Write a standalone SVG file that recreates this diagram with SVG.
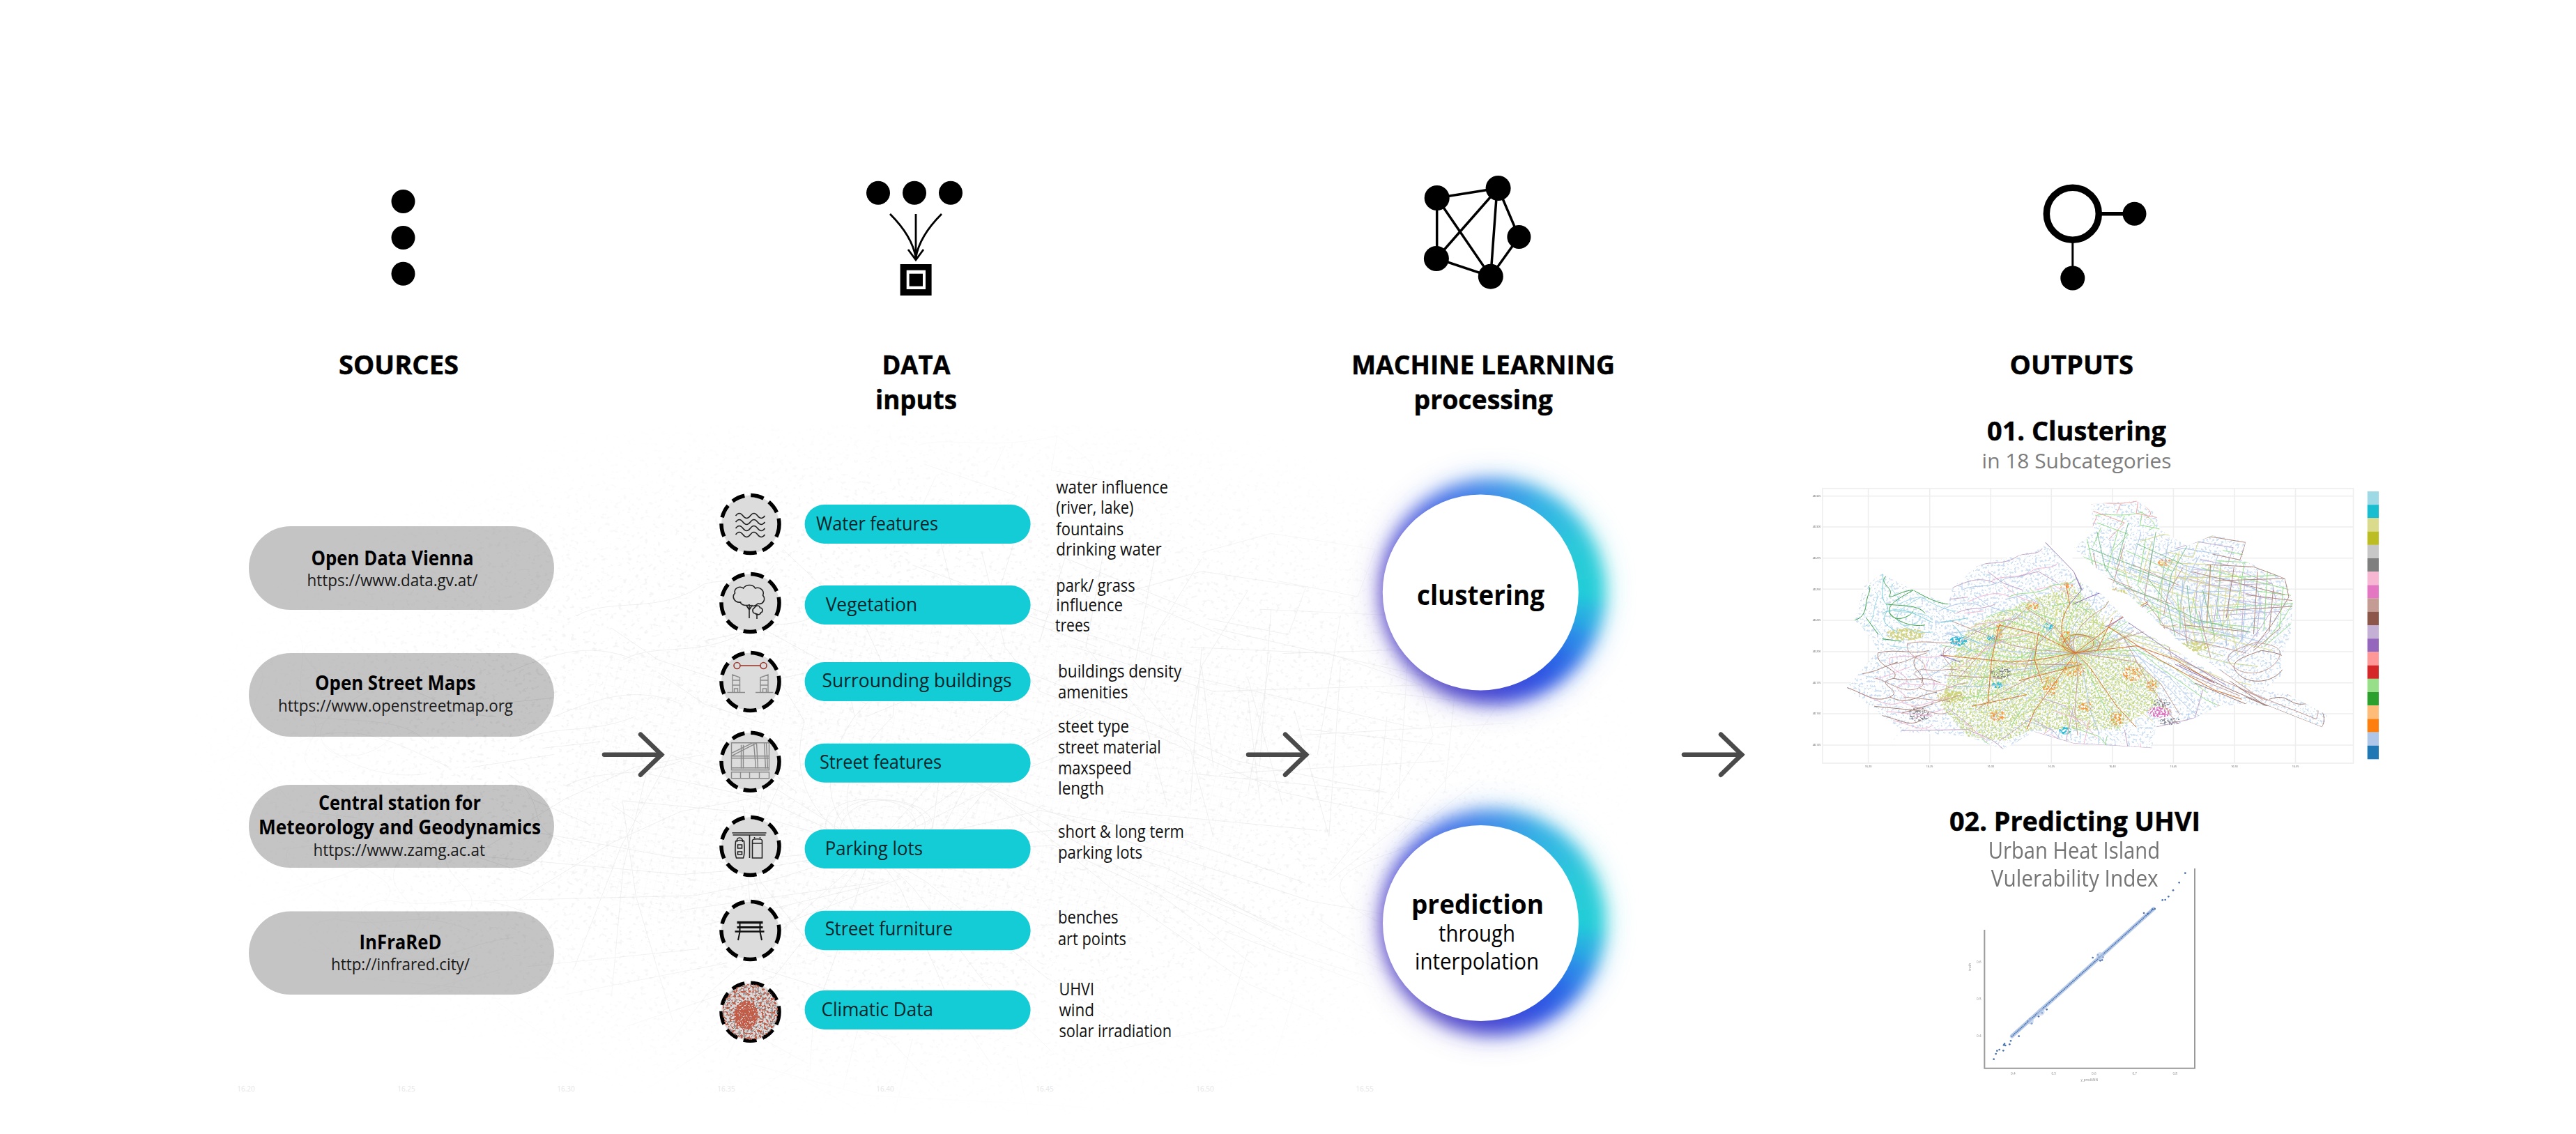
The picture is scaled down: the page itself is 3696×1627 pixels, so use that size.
<svg xmlns="http://www.w3.org/2000/svg" xmlns:xlink="http://www.w3.org/1999/xlink" width="3696" height="1627" viewBox="0 0 3696 1627">
<style>
text{font-family:"Open Sans","Liberation Sans",sans-serif;fill:#000}
.h{font-size:38px;font-weight:700;stroke:#000;stroke-width:.5px}
.h2{font-size:38px;font-weight:700;stroke:#000;stroke-width:.5px}
.sub{font-size:29px;fill:#7d7d7d}
.sub2{font-size:32px;fill:#757575}
.st{font-size:28px;font-weight:700}
.su{font-size:24px;fill:#1a1a1a}
.pt{font-size:27px;fill:#06262a}
.sd{font-size:25px;fill:#111}
.grey{fill:#000;fill-opacity:.232}
.teal{fill:#13ccd6}
.dash{fill:#dcdcdc;stroke:#000;stroke-width:5.5;stroke-dasharray:19 9}
.ic{fill:none;stroke:#222;stroke-width:1.6}
.icg{fill:none;stroke:#8a8a8a;stroke-width:1.4}
.net path{fill:none;vector-effect:non-scaling-stroke}
.edge{stroke:#000;stroke-width:3.5;fill:none}
.arrow{stroke:#4a4a4a;stroke-width:6.5;stroke-linecap:round;fill:none;marker-end:url(#chev)}
.tk{font-size:3.8px;fill:#555}
.tk2{font-size:14px;fill:#8a8a8a}
.bt{font-size:10px;fill:#e6e6e6}
.grid{stroke:#eeeeee;stroke-width:1.6}
</style>
<defs>
<marker id="chev" markerUnits="userSpaceOnUse" markerWidth="50" markerHeight="76" refX="37" refY="36" orient="auto">
<path d="M7 7 L37 36 L7 65" fill="none" stroke="#4a4a4a" stroke-width="6.5" stroke-linecap="round"/>
</marker>
<filter id="b10" x="-30%" y="-30%" width="160%" height="160%"><feGaussianBlur stdDeviation="12"/></filter>
<filter id="b22" x="-40%" y="-40%" width="180%" height="180%"><feGaussianBlur stdDeviation="24"/></filter>
<filter id="soft" x="-2%" y="-2%" width="104%" height="104%"><feGaussianBlur stdDeviation=".45"/></filter>
<filter id="nBg" x="0" y="0" width="1" height="1" color-interpolation-filters="sRGB"><feTurbulence type="fractalNoise" baseFrequency=".16 .2" numOctaves="3" seed="7"/><feColorMatrix values="0 0 0 0 .55 0 0 0 0 .55 0 0 0 0 .55 7 0 0 0 -4.2"/></filter>
<filter id="nBlue" x="0" y="0" width="1" height="1" color-interpolation-filters="sRGB"><feTurbulence type="fractalNoise" baseFrequency=".3" numOctaves="2" seed="11"/><feColorMatrix values="0 0 0 0 .62 0 0 0 0 .76 0 0 0 0 .9 8 0 0 0 -4.3"/></filter>
<filter id="nGreen" x="0" y="0" width="1" height="1" color-interpolation-filters="sRGB"><feTurbulence type="fractalNoise" baseFrequency=".38" numOctaves="2" seed="4"/><feColorMatrix values="0 0 0 0 .76 0 0 0 0 .84 0 0 0 0 .45 8 0 0 0 -4"/></filter>
<filter id="nOr" x="0" y="0" width="1" height="1" color-interpolation-filters="sRGB"><feTurbulence type="fractalNoise" baseFrequency=".32" numOctaves="2" seed="21"/><feColorMatrix values="0 0 0 0 1 0 0 0 0 .5 0 0 0 0 .1 9 0 0 0 -4.4"/></filter>
<filter id="nGr" x="0" y="0" width="1" height="1" color-interpolation-filters="sRGB"><feTurbulence type="fractalNoise" baseFrequency=".4" numOctaves="2" seed="15"/><feColorMatrix values="0 0 0 0 .42 0 0 0 0 .42 0 0 0 0 .46 9 0 0 0 -4.4"/></filter>
<filter id="nPk" x="0" y="0" width="1" height="1" color-interpolation-filters="sRGB"><feTurbulence type="fractalNoise" baseFrequency=".38" numOctaves="2" seed="31"/><feColorMatrix values="0 0 0 0 .89 0 0 0 0 .47 0 0 0 0 .76 9 0 0 0 -4"/></filter>
<filter id="nOl" x="0" y="0" width="1" height="1" color-interpolation-filters="sRGB"><feTurbulence type="fractalNoise" baseFrequency=".32" numOctaves="2" seed="8"/><feColorMatrix values="0 0 0 0 .8 0 0 0 0 .8 0 0 0 0 .4 10 0 0 0 -4.4"/></filter>
<filter id="nTe" x="0" y="0" width="1" height="1" color-interpolation-filters="sRGB"><feTurbulence type="fractalNoise" baseFrequency=".32" numOctaves="2" seed="18"/><feColorMatrix values="0 0 0 0 .2 0 0 0 0 .75 0 0 0 0 .85 10 0 0 0 -4.4"/></filter>
<filter id="nRed" x="0" y="0" width="1" height="1" color-interpolation-filters="sRGB"><feTurbulence type="fractalNoise" baseFrequency=".3" numOctaves="2" seed="5"/><feColorMatrix values="0 0 0 0 .76 0 0 0 0 .36 0 0 0 0 .28 10 0 0 0 -5.2"/></filter>
<filter id="nRed2" x="0" y="0" width="1" height="1" color-interpolation-filters="sRGB"><feTurbulence type="fractalNoise" baseFrequency=".5" numOctaves="2" seed="9"/><feColorMatrix values="0 0 0 0 .76 0 0 0 0 .36 0 0 0 0 .28 10 0 0 0 -3.6"/></filter>
<filter id="nLine" x="0" y="0" width="1" height="1" color-interpolation-filters="sRGB"><feTurbulence type="fractalNoise" baseFrequency=".3" numOctaves="2" seed="13"/><feColorMatrix values="0 0 0 0 .6 0 0 0 0 .6 0 0 0 0 .6 9 0 0 0 -4.6"/></filter>
<pattern id="gridG" patternUnits="userSpaceOnUse" width="16" height="30" patternTransform="rotate(25)"><path d="M0 0H16M0 0V30" fill="none" stroke="#c9dc94" stroke-width="1.4"/></pattern>
<pattern id="gridB" patternUnits="userSpaceOnUse" width="14" height="26" patternTransform="rotate(-20)"><path d="M0 0H14M0 0V26" fill="none" stroke="#c4d4ec" stroke-width="1.1"/></pattern>
<pattern id="gridBg" patternUnits="userSpaceOnUse" width="13" height="13" patternTransform="rotate(12)"><path d="M0 0H13M0 0V13" fill="none" stroke="#e6e6e6" stroke-width="1"/></pattern>
<clipPath id="cityClip"><polygon transform="translate(2560 680) scale(.5612 .3333)" points="180,630 205,480 250,430 330,500 420,560 430,490 490,400 530,375 600,350 660,320 668,295 720,380 760,470 800,500 850,480 740,320 790,250 785,130 900,115 950,170 960,240 1030,310 1095,265 1180,290 1170,370 1280,450 1300,550 1295,690 1270,790 1275,870 1220,930 1290,950 1390,1040 1375,1090 1240,1000 1180,990 1110,1000 1050,1050 1000,1080 950,1090 940,1180 850,1170 740,1160 640,1110 560,1185 470,1130 300,1110 270,1165 300,1100 250,1040 160,920 240,760 220,700"/></clipPath>
<clipPath id="centerClip"><polygon transform="translate(2560 680) scale(.5612 .3333)" points="470,660 600,560 740,480 800,600 830,680 900,800 960,900 950,1000 850,1100 640,1100 560,1150 470,1130 400,1000 430,800"/></clipPath>
<clipPath id="orangeClip" transform="translate(2560 680) scale(.5612 .3333)"><ellipse cx="720" cy="720" rx="18" ry="44"/><ellipse cx="740" cy="840" rx="28" ry="34"/><ellipse cx="910" cy="620" rx="16" ry="28"/><ellipse cx="635" cy="570" rx="18" ry="14"/><ellipse cx="720" cy="480" rx="18" ry="14"/><ellipse cx="545" cy="1040" rx="20" ry="24"/><ellipse cx="850" cy="1055" rx="18" ry="32"/><ellipse cx="890" cy="860" rx="24" ry="32"/><ellipse cx="940" cy="910" rx="14" ry="24"/><ellipse cx="680" cy="910" rx="20" ry="44"/><ellipse cx="550" cy="680" rx="9" ry="50"/><ellipse cx="975" cy="380" rx="20" ry="18"/><ellipse cx="770" cy="1000" rx="18" ry="24"/></clipPath>
<clipPath id="darkClip" transform="translate(2560 680) scale(.5612 .3333)"><ellipse cx="555" cy="855" rx="28" ry="28"/><ellipse cx="345" cy="1035" rx="30" ry="30"/><ellipse cx="965" cy="985" rx="22" ry="18"/><ellipse cx="985" cy="1065" rx="30" ry="16"/></clipPath>
<clipPath id="pinkClip" transform="translate(2560 680) scale(.5612 .3333)"><ellipse cx="960" cy="1025" rx="30" ry="24"/></clipPath>
<clipPath id="oliveClip" transform="translate(2560 680) scale(.5612 .3333)"><ellipse cx="425" cy="960" rx="36" ry="26"/><ellipse cx="850" cy="520" rx="28" ry="28"/><ellipse cx="1050" cy="740" rx="34" ry="24"/><ellipse cx="310" cy="690" rx="50" ry="26"/></clipPath>
<clipPath id="tealClip" transform="translate(2560 680) scale(.5612 .3333)"><ellipse cx="545" cy="908" rx="14" ry="14"/><ellipse cx="718" cy="1105" rx="16" ry="16"/><ellipse cx="445" cy="720" rx="22" ry="22"/><ellipse cx="530" cy="705" rx="12" ry="14"/><ellipse cx="675" cy="655" rx="12" ry="16"/></clipPath>
<clipPath id="cl"><circle cx="0" cy="0" r="40"/></clipPath>
<clipPath id="cl2"><ellipse cx="-6" cy="5" rx="17" ry="20"/></clipPath>
<radialGradient id="fade" gradientUnits="userSpaceOnUse" cx="0" cy="0" r="1" gradientTransform="translate(1320 1085) scale(1060 530)"><stop offset=".6" stop-color="#fff"/><stop offset="1" stop-color="#000"/></radialGradient>
<mask id="fadeM" maskUnits="userSpaceOnUse" x="200" y="560" width="2300" height="1050"><rect x="200" y="560" width="2300" height="1050" fill="url(#fade)"/></mask>
<g id="rA" class="net"><path d="M180,630C215,610 205,560 215,520S210,490 220,480M260,440C240,470 280,490 270,520S300,500 330,500M330,500C300,530 260,560 270,600S320,620 330,590M210,620L240,690M270,600C290,640 330,660 360,650M330,500C370,540 400,560 420,560M300,720L250,710M260,560C300,570 340,560 360,600"/></g>
<g id="rB" class="net"><path d="M250,430C260,470 240,520 260,560S220,620 290,680M250,600C300,560 340,610 380,640M430,650C470,700 440,730 480,760M450,690L500,730M520,700L545,730M660,650L680,680M400,640L470,620"/></g>
<g id="rC" class="net"><path d="M160,920C200,940 230,990 270,960S220,900 280,880C300,840 230,830 240,770M240,770C290,750 330,780 370,760M280,880C330,900 350,860 400,900M270,960C320,1000 340,950 390,940M230,1000L350,1020M300,1030L380,990M250,1040C300,1060 320,1090 350,1060M200,860C240,850 250,830 290,810M340,780C310,840 370,860 350,900"/></g>
<g id="rD" class="net"><path d="M1010,820L1130,920L1240,1000L1375,1090M1180,960L1250,1010M1240,970C1290,940 1290,1000 1330,990S1390,1040 1375,1090M1220,760C1170,790 1130,810 1160,860S1250,900 1275,840S1260,770 1220,760M1130,880L1240,1010M1050,900L1180,990"/></g>
<g id="rE" class="net"><path d="M1080,390L1200,400L1280,450L1290,530L1250,640L1200,750M1100,460L1280,450M1110,590L1300,570M1020,650L1190,680M1090,390L1080,640M1150,400L1130,620M1210,420L1200,690M1030,300L1090,270L1180,295L1165,370L1095,345M1040,420L1280,520M1180,520L1300,545M1250,500L1240,680M1270,660L1200,760"/></g>
<g id="rF" class="net"><path d="M785,130C810,115 850,140 905,115C930,150 950,170 925,190M790,160L830,185M800,180L780,260M830,185L870,210L830,280M905,115L900,170L960,190M860,130L850,170"/></g>
<g id="rG" class="net"><path d="M745,770L650,690L550,650M745,770C700,720 700,640 730,560L720,470M745,770L800,700L860,620L930,550M745,770L650,800L580,810M745,770L700,880L640,1020L620,1100M745,770L780,830L850,1000L900,1090M745,770L900,740L1000,800L1100,900M400,780L580,810M830,660L960,800L1100,930L1170,970M715,720C700,770 760,790 790,740C800,690 730,670 715,720M550,650L530,800L520,1000M600,890L760,820M620,950L480,1000M840,620L800,760M650,680L640,800L660,900"/></g>
<g id="rH" class="net"><path d="M800,250L820,400L850,470M880,210L850,390M950,250L930,450L980,560L1000,700M1030,310L990,430L980,520M850,470L950,540L1060,630L1190,680M780,320L900,400M900,300L1020,390M880,400L1000,470M1030,480L1040,640M1070,500L1100,700"/></g>
<g id="rI" class="net"><path d="M668,295L740,420L760,500L730,560M810,510L780,530L740,560M820,660L930,560M400,780L450,810M1000,820L1100,900"/></g>
<g id="rJ" class="net"><path d="M490,400C520,370 560,400 600,350C620,340 650,350 660,320M430,490C470,460 500,440 540,470M440,600C470,570 500,590 540,560M480,690L540,640L600,620M400,780L480,690M520,420L560,470L610,500M600,440L650,420L700,470M420,540L470,530M300,1105L470,1100C500,1130 520,1120 560,1185M640,1110L700,1140L740,1160L850,1170L940,1180M740,1000L720,1150M870,1100L880,1190M950,1090L1050,1050L1070,930M650,960L720,1000L760,1080M640,1060L690,1110M550,1150L640,1040M420,1010L480,1090"/></g>
<g id="halo">
<g transform="translate(17 -1)" opacity=".32" filter="url(#b22)"><use href="#wedges"/></g>
<g transform="translate(17 -1)" filter="url(#b10)"><use href="#wedges"/></g>
</g>
<g id="wedges">
<path fill="#22cdd8" d="M0 0L160.600 -21.100L160.600 21.100Z"/>
<path fill="#28aee2" d="M0 0L160.600 21.100L149.700 62Z"/>
<path fill="#2a86e8" d="M0 0L149.700 62L128.500 98.600Z"/>
<path fill="#2c68e6" d="M0 0L128.500 98.600L98.600 128.500Z"/>
<path fill="#2f55e2" d="M0 0L98.600 128.500L62 149.700Z"/>
<path fill="#3b4edb" d="M0 0L62 149.700L21.100 160.600Z"/>
<path fill="#4748d2" d="M0 0L21.100 160.600L-21.100 160.600Z"/>
<path fill="#514ccd" d="M0 0L-21.100 160.600L-62 149.700Z"/>
<path fill="#5a50c8" d="M0 0L-62 149.700L-98.600 128.500Z"/>
<path fill="#5e52ca" d="M0 0L-98.600 128.500L-128.500 98.600Z"/>
<path fill="#6254cc" d="M0 0L-128.500 98.600L-149.700 62Z"/>
<path fill="#6454cc" d="M0 0L-149.700 62L-160.600 21.100Z"/>
<path fill="#6654cc" d="M0 0L-160.600 21.100L-160.600 -21.100Z"/>
<path fill="#6258d2" d="M0 0L-160.600 -21.100L-149.700 -62Z"/>
<path fill="#5a5cd8" d="M0 0L-149.700 -62L-128.500 -98.600Z"/>
<path fill="#5266df" d="M0 0L-128.500 -98.600L-98.600 -128.500Z"/>
<path fill="#4a72e6" d="M0 0L-98.600 -128.500L-62 -149.700Z"/>
<path fill="#4580e8" d="M0 0L-62 -149.700L-21.100 -160.600Z"/>
<path fill="#3f8fe8" d="M0 0L-21.100 -160.600L21.100 -160.600Z"/>
<path fill="#39a0e6" d="M0 0L21.100 -160.600L62 -149.700Z"/>
<path fill="#33b2e4" d="M0 0L62 -149.700L98.600 -128.500Z"/>
<path fill="#2fbde0" d="M0 0L98.600 -128.500L128.500 -98.600Z"/>
<path fill="#2cc8da" d="M0 0L128.500 -98.600L149.700 -62Z"/>
<path fill="#26ccd8" d="M0 0L149.700 -62L160.600 -21.100Z"/>
</g>
</defs>
<rect width="3696" height="1627" fill="#fff"/>

<g id="background-map" mask="url(#fadeM)">
<rect x="280" y="610" width="2060" height="990" filter="url(#nBg)" opacity=".09"/>
<polygon points="850,950 1500,820 1850,1000 1750,1300 1100,1400 800,1250" fill="url(#gridBg)" opacity=".3"/>
<g transform="translate(14.4 520.8) scale(1.66 .906)" stroke="#d0d0d0" stroke-width="1" opacity=".32">
<use href="#rA"/><use href="#rB"/><use href="#rC"/><use href="#rD"/><use href="#rE"/><use href="#rF"/><use href="#rG"/><use href="#rH"/><use href="#rI"/><use href="#rJ"/>
<use href="#rG" transform="rotate(9 745 770)"/><use href="#rG" transform="rotate(-12 745 770)"/><use href="#rJ" transform="translate(40 70)"/><use href="#rC" transform="translate(45 -30)"/><use href="#rE" transform="translate(-60 60)"/><use href="#rH" transform="translate(40 50)"/>
</g>
</g>
<g id="background-labels">
<text class="bt" x="353" y="1566" text-anchor="middle">16.20</text><text class="bt" x="583" y="1566" text-anchor="middle">16.25</text><text class="bt" x="812" y="1566" text-anchor="middle">16.30</text><text class="bt" x="1042" y="1566" text-anchor="middle">16.35</text><text class="bt" x="1270" y="1566" text-anchor="middle">16.40</text><text class="bt" x="1499" y="1566" text-anchor="middle">16.45</text><text class="bt" x="1729" y="1566" text-anchor="middle">16.50</text><text class="bt" x="1958" y="1566" text-anchor="middle">16.55</text>
</g>

<g id="col-sources">
<circle cx="578.5" cy="289" r="17"/><circle cx="578.5" cy="341" r="17"/><circle cx="578.5" cy="392.7" r="17"/>
<text class="h" x="486" y="537" textLength="172" lengthAdjust="spacingAndGlyphs">SOURCES</text>
</g>
<g id="col-data">
<circle cx="1260" cy="276.7" r="17"/><circle cx="1312" cy="276.7" r="17"/><circle cx="1364" cy="276.7" r="17"/>
<path d="M1277 307C1295 325 1310 345 1314 370M1314 307V372M1351 307C1333 325 1318 345 1314 370M1303 358L1314 373L1325 358" fill="none" stroke="#000" stroke-width="2.8"/>
<rect x="1291.6" y="379" width="45" height="45"/><rect x="1300.7" y="387.7" width="27.3" height="27.3" fill="#fff"/><rect x="1304.6" y="392.7" width="19.4" height="18"/>
<text class="h" x="1265.5" y="537" textLength="98" lengthAdjust="spacingAndGlyphs">DATA</text>
<text class="h" x="1256" y="586.7" textLength="117" lengthAdjust="spacingAndGlyphs">inputs</text>
</g>
<g id="col-ml">
<path class="edge" d="M2061.7 284L2149.6 270" stroke-width="6"/><path class="edge" d="M2061.7 284V371L2138.8 396.7L2179.4 340L2149.6 270L2060.9 371M2061.7 284L2138.8 396.7L2148 270"/>
<circle cx="2061.7" cy="284" r="18"/><circle cx="2149.6" cy="270" r="18"/><circle cx="2179.4" cy="340" r="17"/><circle cx="2060.9" cy="371" r="18"/><circle cx="2138.8" cy="396.7" r="18"/>
<text class="h" x="1939" y="537" textLength="378" lengthAdjust="spacingAndGlyphs">MACHINE LEARNING</text>
<text class="h" x="2028.5" y="587" textLength="199.5" lengthAdjust="spacingAndGlyphs">processing</text>
</g>
<g id="col-outputs">
<path d="M3010 306.7H3062" stroke="#000" stroke-width="5.5"/><path d="M2973.8 345V399" stroke="#000" stroke-width="3"/>
<circle cx="2973.8" cy="306.7" r="37.5" fill="#fff" stroke="#000" stroke-width="9.5"/><circle cx="3062.5" cy="306.7" r="17"/><circle cx="2973.8" cy="399" r="17.5"/>
<text class="h" x="2883.5" y="537" textLength="177.5" lengthAdjust="spacingAndGlyphs">OUTPUTS</text>
</g>

<g id="src-1"><rect class="grey" x="357" y="755" width="438" height="120" rx="60"/>
<text class="st" x="446.5" y="811" textLength="233" lengthAdjust="spacingAndGlyphs">Open Data Vienna</text>
<text class="su" x="440.5" y="841" textLength="245" lengthAdjust="spacingAndGlyphs">https://www.data.gv.at/</text></g>
<g id="src-2"><rect class="grey" x="357" y="937" width="438" height="120" rx="60"/>
<text class="st" x="452" y="990" textLength="230.6" lengthAdjust="spacingAndGlyphs">Open Street Maps</text>
<text class="su" x="399" y="1020.5" textLength="337" lengthAdjust="spacingAndGlyphs">https://www.openstreetmap.org</text></g>
<g id="src-3"><rect class="grey" x="357" y="1126" width="438" height="119" rx="59.5"/>
<text class="st" x="457" y="1162" textLength="233" lengthAdjust="spacingAndGlyphs">Central station for</text>
<text class="st" x="371" y="1197" textLength="405" lengthAdjust="spacingAndGlyphs">Meteorology and Geodynamics</text>
<text class="su" x="449.5" y="1227.5" textLength="246.5" lengthAdjust="spacingAndGlyphs">https://www.zamg.ac.at</text></g>
<g id="src-4"><rect class="grey" x="357" y="1307.5" width="438" height="119.5" rx="59.7"/>
<text class="st" x="515.6" y="1362" textLength="118" lengthAdjust="spacingAndGlyphs">InFraReD</text>
<text class="su" x="475" y="1392" textLength="199" lengthAdjust="spacingAndGlyphs">http://infrared.city/</text></g>

<g id="input-water">
<g transform="translate(1076.5 752)"><circle class="dash" r="41.5"/>
<path class="ic" stroke="#111" d="M-21 -12q5.2 -7 10.5 0t10.5 0t10.5 0t10.5 0M-21 -3q5.2 -7 10.5 0t10.5 0t10.5 0t10.5 0M-21 6q5.2 -7 10.5 0t10.5 0t10.5 0t10.5 0M-21 15q5.2 -7 10.5 0t10.5 0t10.5 0t10.5 0"/></g>
<rect class="teal" x="1154.6" y="724" width="324" height="56" rx="28"/>
<text class="pt" x="1171" y="761" textLength="175" lengthAdjust="spacingAndGlyphs">Water features</text>
<text class="sd" x="1515.3" y="707.7" textLength="160.7" lengthAdjust="spacingAndGlyphs">water influence</text>
<text class="sd" x="1515.3" y="737.3" textLength="111" lengthAdjust="spacingAndGlyphs">(river, lake)</text>
<text class="sd" x="1515.3" y="767.7" textLength="97" lengthAdjust="spacingAndGlyphs">fountains</text>
<text class="sd" x="1515.3" y="797.3" textLength="151.5" lengthAdjust="spacingAndGlyphs">drinking water</text>
</g>
<g id="input-vegetation">
<g transform="translate(1076.5 865)"><circle class="dash" r="41.5"/>
<path class="ic" d="M-2 3C-10 5 -14 1 -14 -1C-23 0 -27 -9 -22 -14C-24 -21 -15 -25 -10 -21C-6 -27 4 -27 7 -21C14 -24 21 -17 18 -11C23 -5 18 3 11 1C7 5 2 5 -2 3ZM-1.5 2V22M-1.5 10L-6 3M-1.5 10L3 3M6 7C2 9 3 15 7 15C9 18 15 17 15 14C19 13 18 7 14 7C13 3 8 3 6 7ZM9.5 15V23"/></g>
<rect class="teal" x="1154.6" y="840" width="324" height="56" rx="28"/>
<text class="pt" x="1184.7" y="876.7" textLength="131.5" lengthAdjust="spacingAndGlyphs">Vegetation</text>
<text class="sd" x="1515.3" y="849" textLength="113.3" lengthAdjust="spacingAndGlyphs">park/ grass</text>
<text class="sd" x="1515.3" y="877" textLength="95.7" lengthAdjust="spacingAndGlyphs">influence</text>
<text class="sd" x="1514" y="906" textLength="49.8" lengthAdjust="spacingAndGlyphs">trees</text>
</g>
<g id="input-buildings">
<g transform="translate(1076.5 978)"><circle class="dash" r="41.5"/>
<path fill="none" stroke="#9c3b30" stroke-width="1.6" d="M-14.500 -23H14.500"/><circle cx="-19" cy="-23" r="4.5" fill="none" stroke="#9c3b30" stroke-width="1.6"/><circle cx="19" cy="-23" r="4.5" fill="none" stroke="#9c3b30" stroke-width="1.6"/>
<path class="icg" d="M-33 15.500H-7.500M-25.500 15.500V-10L-15 -6V15.500M-25.500 -2H-15M-25.500 5H-15M-23 15.500V10H-18V15.500M7.500 15.500H33M14.500 15.500V-6L25.500 -10V15.500M14.500 -2H25.500M14.500 5H25.500M18 15.500V10H23V15.500"/></g>
<rect class="teal" x="1154.6" y="950" width="324" height="56" rx="28"/>
<text class="pt" x="1179.6" y="986" textLength="272" lengthAdjust="spacingAndGlyphs">Surrounding buildings</text>
<text class="sd" x="1518" y="971.7" textLength="177.4" lengthAdjust="spacingAndGlyphs">buildings density</text>
<text class="sd" x="1518" y="1001.7" textLength="100.4" lengthAdjust="spacingAndGlyphs">amenities</text>
</g>
<g id="input-streets">
<g transform="translate(1076.5 1092.700)"><circle class="dash" r="41.5"/>
<path class="icg" d="M-27 -27H27V12H-27ZM-27 -12L4 -27M-27 -8L10 -27M-27 -8H27M-27 -5H27M-13 -24V10M-10 -24V10M5 -27L8 10M9 -27L11 10M20 -27L22 10M23 -27L25 10M-27 9H27M-27 15H27V24H-27ZM-14 15V24M-1 15V24M13 15V24"/></g>
<rect class="teal" x="1154.6" y="1066.700" width="324" height="56" rx="28"/>
<text class="pt" x="1176" y="1103" textLength="175" lengthAdjust="spacingAndGlyphs">Street features</text>
<text class="sd" x="1518" y="1050.7" textLength="102" lengthAdjust="spacingAndGlyphs">steet type</text>
<text class="sd" x="1518" y="1080.7" textLength="147.800" lengthAdjust="spacingAndGlyphs">street material</text>
<text class="sd" x="1518" y="1110.7" textLength="105.500" lengthAdjust="spacingAndGlyphs">maxspeed</text>
<text class="sd" x="1518" y="1140" textLength="66" lengthAdjust="spacingAndGlyphs">length</text>
</g>
<g id="input-parking">
<g transform="translate(1076.5 1214)"><circle class="dash" r="41.5"/>
<path class="ic" d="M-26 -19H23M-25 -16H22M-1 -16V17M-19 -6C-21 -14 -10 -14 -11 -6M-21 -7C-22 4 -22 12 -20 17H-10C-8 12 -8 4 -9 -7C-10 -9 -20 -9 -21 -7ZM-18 -2H-12V3H-18ZM-18 8H-12V12H-18ZM3 -8C3 -11 17 -11 17 -8V17H3ZM3 -4H17M6 -13V-11M14 -13V-11"/></g>
<rect class="teal" x="1154.6" y="1190" width="324" height="56" rx="28"/>
<text class="pt" x="1183.7" y="1227" textLength="140.300" lengthAdjust="spacingAndGlyphs">Parking lots</text>
<text class="sd" x="1518" y="1201.7" textLength="181" lengthAdjust="spacingAndGlyphs">short &amp; long term</text>
<text class="sd" x="1518" y="1231.7" textLength="121" lengthAdjust="spacingAndGlyphs">parking lots</text>
</g>
<g id="input-furniture">
<g transform="translate(1076.5 1335)"><circle class="dash" r="41.5"/>
<path fill="none" stroke="#111" d="M-19 -11.500H18" stroke-width="3.500"/><path fill="none" stroke="#111" d="M-19 -4.500H18" stroke-width="3"/><path fill="none" stroke="#111" d="M-22 1.500H20" stroke-width="2.600"/><path fill="none" stroke="#111" stroke-width="2" d="M-15 -13V2L-17.500 14M14 -13V2L16.500 14"/></g>
<rect class="teal" x="1154.6" y="1306.700" width="324" height="56.500" rx="28"/>
<text class="pt" x="1183.7" y="1342" textLength="183.300" lengthAdjust="spacingAndGlyphs">Street furniture</text>
<text class="sd" x="1518" y="1325" textLength="86.600" lengthAdjust="spacingAndGlyphs">benches</text>
<text class="sd" x="1518" y="1355.7" textLength="98" lengthAdjust="spacingAndGlyphs">art points</text>
</g>
<g id="input-climate">
<g transform="translate(1076.5 1451.700)"><circle class="dash" r="41.5"/>
<g clip-path="url(#cl)"><rect x="-42" y="-42" width="84" height="84" filter="url(#nLine)"/><rect x="-42" y="-42" width="84" height="84" filter="url(#nRed)"/></g>
<g clip-path="url(#cl2)"><rect x="-30" y="-20" width="50" height="50" filter="url(#nRed2)"/></g></g>
<rect class="teal" x="1154.6" y="1421" width="324" height="56" rx="28"/>
<text class="pt" x="1178.6" y="1458" textLength="160.400" lengthAdjust="spacingAndGlyphs">Climatic Data</text>
<text class="sd" x="1519.4" y="1428" textLength="50.600" lengthAdjust="spacingAndGlyphs">UHVI</text>
<text class="sd" x="1519.4" y="1458" textLength="50.600" lengthAdjust="spacingAndGlyphs">wind</text>
<text class="sd" x="1519.4" y="1488" textLength="161.600" lengthAdjust="spacingAndGlyphs">solar irradiation</text>
</g>

<g id="ml-clustering">
<use href="#halo" x="2124.3" y="850"/>
<circle cx="2124.3" cy="850" r="140.500" fill="#fff"/>
<text x="2033" y="868.3" font-size="39" font-weight="700" textLength="183" lengthAdjust="spacingAndGlyphs">clustering</text>
</g>
<g id="ml-prediction">
<use href="#halo" x="2124.5" y="1324.500"/>
<circle cx="2124.5" cy="1324.500" r="140.500" fill="#fff"/>
<text x="2025" y="1310.7" font-size="38" font-weight="700" textLength="190" lengthAdjust="spacingAndGlyphs">prediction</text>
<text x="2064" y="1351" font-size="33" textLength="110" lengthAdjust="spacingAndGlyphs">through</text>
<text x="2030" y="1391" font-size="33" textLength="178" lengthAdjust="spacingAndGlyphs">interpolation</text>
</g>

<g id="connectors">
<path class="arrow" d="M867 1082.700H949"/>
<path class="arrow" d="M1791 1082.700H1874"/>
<path class="arrow" d="M2416 1082.700H2499"/>
</g>

<g id="output-clustering">
<text class="h2" x="2851" y="632" textLength="257" lengthAdjust="spacingAndGlyphs">01. Clustering</text>
<text class="sub" x="2843.6" y="671.7" textLength="272" lengthAdjust="spacingAndGlyphs">in 18 Subcategories</text>
<g id="cluster-plot" filter="url(#soft)">
<rect x="2615" y="700.7" width="761.500" height="394.300" fill="#fff" stroke="#eeeeee" stroke-width="1.600"/>
<path class="grid" d="M2615 711.7H3376.500M2615 756H3376.500M2615 800.7H3376.500M2615 845.300H3376.500M2615 890H3376.500M2615 935H3376.500M2615 979.700H3376.500M2615 1024H3376.500M2615 1069H3376.500M2680.600 700.700V1095M2768.700 700.700V1095M2856.300 700.700V1095M2943.300 700.700V1095M3030.800 700.700V1095M3118.400 700.700V1095M3205.900 700.700V1095M3293.500 700.700V1095"/>
<g clip-path="url(#cityClip)">
<rect x="2640" y="715" width="730" height="370" fill="#fff"/>
<rect x="2640" y="715" width="730" height="370" filter="url(#nBlue)" opacity=".5"/>
<g clip-path="url(#centerClip)"><rect x="2780" y="830" width="420" height="260" filter="url(#nGreen)" opacity=".85"/></g>
<g transform="translate(2560 680) scale(.5612 .3333)">
<polygon points="470,660 600,560 740,480 800,600 830,680 900,800 960,900 950,1000 850,1100 640,1100 560,1150 470,1130 400,1000 430,800" fill="url(#gridG)"/>
<polygon points="960,400 1030,320 1110,430 1100,600 1000,700 950,560" fill="url(#gridB)"/>
<polygon points="1000,560 1100,660 1100,760 1040,740" fill="url(#gridG)"/>
<polygon points="1240,660 1295,660 1290,720 1240,740" fill="url(#gridB)"/>
</g>
<g clip-path="url(#oliveClip)"><rect x="2640" y="715" width="730" height="370" filter="url(#nOl)" opacity=".8"/></g>
<g clip-path="url(#tealClip)"><rect x="2640" y="715" width="730" height="370" filter="url(#nTe)"/></g>
<g clip-path="url(#darkClip)"><rect x="2640" y="715" width="730" height="370" filter="url(#nGr)" opacity=".75"/></g>
<g clip-path="url(#pinkClip)"><rect x="2640" y="715" width="730" height="370" filter="url(#nPk)"/></g>
<g clip-path="url(#orangeClip)"><rect x="2640" y="715" width="730" height="370" filter="url(#nOr)" opacity=".75"/></g>
<g transform="translate(2560 680) scale(.5612 .3333)" stroke-width="1">
<use href="#rG" stroke="#98df8a" transform="rotate(7 745 770)"/><use href="#rG" stroke="#dbdb8d" transform="rotate(-8 745 770)"/><use href="#rG" stroke="#aec7e8" transform="rotate(16 745 770)"/><use href="#rG" stroke="#c5d98a" transform="rotate(-18 745 770)"/><use href="#rG" stroke="#c49c94" transform="rotate(25 745 770)"/>
<use href="#rJ" stroke="#f7b6d2" transform="translate(40 60)"/><use href="#rJ" stroke="#98df8a" transform="translate(85 130)"/><use href="#rJ" stroke="#aec7e8" transform="translate(-35 100)"/>
<use href="#rC" stroke="#f2b6d0" transform="translate(30 22)"/><use href="#rC" stroke="#c49c94" transform="translate(75 -40)"/>
<use href="#rE" stroke="#c5b0d5" transform="translate(-32 22)"/><use href="#rE" stroke="#98df8a" transform="translate(26 -16)"/><use href="#rE" stroke="#aec7e8" transform="translate(-70 50)"/><use href="#rE" stroke="#dbdb8d" transform="translate(-120 -10)"/>
<use href="#rH" stroke="#aec7e8" transform="translate(32 42)"/><use href="#rH" stroke="#98df8a" transform="translate(-26 30)"/><use href="#rH" stroke="#dbdb8d" transform="translate(60 80)"/><use href="#rH" stroke="#c49c94" transform="translate(-10 90)"/>
<use href="#rA" stroke="#9edae5" transform="translate(20 30)"/><use href="#rF" stroke="#98df8a" transform="translate(10 50)"/><use href="#rD" stroke="#c49c94" transform="translate(-15 -35)"/>
<use href="#rA" stroke="#3da34a"/><use href="#rB" stroke="#78cfd8"/><use href="#rC" stroke="#a98078"/><use href="#rD" stroke="#a07a72"/><use href="#rE" stroke="#b0897e"/><use href="#rF" stroke="#f2a6a6"/><use href="#rG" stroke="#d9742c"/><use href="#rH" stroke="#7fbf92"/><use href="#rI" stroke="#8f6cbc"/><use href="#rJ" stroke="#c4a5c6"/>
</g>
</g>
<g transform="translate(2560 680) scale(.5612 .3333)">
<polygon points="668,295 722,335 800,480 880,520 1000,710 1160,900 1125,885 990,750 880,640 815,520 790,500 740,430" fill="#fff"/>
<path d="M668,295L740,420L762,500M880,640L1000,780L1130,910" fill="none" stroke="#9b86b8" stroke-width="1" style="vector-effect:non-scaling-stroke"/>
</g>
<g class="tk" text-anchor="middle">
<text class="tk" x="2606.600" y="713">48.325</text><text class="tk" x="2606.600" y="757.300">48.300</text><text class="tk" x="2606.600" y="802">48.275</text><text class="tk" x="2606.600" y="846.600">48.250</text><text class="tk" x="2606.600" y="891.300">48.225</text><text class="tk" x="2606.600" y="936.300">48.200</text><text class="tk" x="2606.600" y="981">48.175</text><text class="tk" x="2606.600" y="1025.300">48.150</text><text class="tk" x="2606.600" y="1070.300">48.125</text>
<text class="tk" x="2680.600" y="1100.500">16.20</text><text class="tk" x="2768.700" y="1100.500">16.25</text><text class="tk" x="2856.300" y="1100.500">16.30</text><text class="tk" x="2943.300" y="1100.500">16.35</text><text class="tk" x="3030.800" y="1100.500">16.40</text><text class="tk" x="3118.400" y="1100.500">16.45</text><text class="tk" x="3205.900" y="1100.500">16.50</text><text class="tk" x="3293.500" y="1100.500">16.55</text>
</g>
</g>
<g id="cluster-legend">
<rect x="3396.700" y="705" width="16.300" height="19.300" fill="#9edae5"/><rect x="3396.700" y="724.200" width="16.300" height="19.300" fill="#17becf"/><rect x="3396.700" y="743.400" width="16.300" height="19.300" fill="#dbdb8d"/><rect x="3396.700" y="762.600" width="16.300" height="19.300" fill="#bcbd22"/><rect x="3396.700" y="781.800" width="16.300" height="19.300" fill="#c7c7c7"/><rect x="3396.700" y="801" width="16.300" height="19.300" fill="#7f7f7f"/><rect x="3396.700" y="820.200" width="16.300" height="19.300" fill="#f7b6d2"/><rect x="3396.700" y="839.400" width="16.300" height="19.300" fill="#e377c2"/><rect x="3396.700" y="858.600" width="16.300" height="19.300" fill="#c49c94"/><rect x="3396.700" y="877.800" width="16.300" height="19.300" fill="#8c564b"/><rect x="3396.700" y="897" width="16.300" height="19.300" fill="#c5b0d5"/><rect x="3396.700" y="916.200" width="16.300" height="19.300" fill="#9467bd"/><rect x="3396.700" y="935.400" width="16.300" height="19.300" fill="#ff9896"/><rect x="3396.700" y="954.600" width="16.300" height="19.300" fill="#d62728"/><rect x="3396.700" y="973.800" width="16.300" height="19.300" fill="#98df8a"/><rect x="3396.700" y="993" width="16.300" height="19.300" fill="#2ca02c"/><rect x="3396.700" y="1012.200" width="16.300" height="19.300" fill="#ffbb78"/><rect x="3396.700" y="1031.400" width="16.300" height="19.300" fill="#ff7f0e"/><rect x="3396.700" y="1050.600" width="16.300" height="19.300" fill="#aec7e8"/><rect x="3396.700" y="1069.800" width="16.300" height="19.500" fill="#1f77b4"/>
</g>
</g>

<g id="output-prediction">
<text class="h2" x="2797" y="1191.7" textLength="360" lengthAdjust="spacingAndGlyphs">02. Predicting UHVI</text>
<g id="scatter" transform="translate(2780 1140) scale(.33333)" filter="url(#soft)">
<path d="M202 582V1178H1107V318" fill="none" stroke="#9a9a9a" stroke-width="6"/>
<path d="M320 1040L930 492" stroke="#b7cbe8" stroke-width="17" stroke-linecap="round" fill="none"/>
<path d="M320 1040L930 492" stroke="#4c72b0" stroke-width="6" stroke-dasharray="0 8" stroke-linecap="round" fill="none"/>
<g fill="#4c72b0">
<circle cx="242" cy="1139" r="4"/><circle cx="251" cy="1116" r="4"/><circle cx="256" cy="1103" r="4"/><circle cx="266" cy="1098" r="4"/><circle cx="283" cy="1102" r="4"/><circle cx="285" cy="1078" r="4"/><circle cx="292" cy="1080" r="4"/><circle cx="288" cy="1073" r="4"/><circle cx="310" cy="1075" r="4"/><circle cx="315" cy="1060" r="4"/><circle cx="350" cy="1040" r="4"/><circle cx="405" cy="985" r="4"/><circle cx="388" cy="975" r="4"/><circle cx="398" cy="965" r="4"/><circle cx="435" cy="955" r="4"/><circle cx="450" cy="940" r="4"/><circle cx="470" cy="925" r="4"/><circle cx="668" cy="702" r="4"/><circle cx="690" cy="690" r="4"/><circle cx="700" cy="715" r="4"/><circle cx="712" cy="700" r="4"/><circle cx="695" cy="700" r="4"/><circle cx="708" cy="712" r="4"/><circle cx="888" cy="510" r="4"/><circle cx="905" cy="513" r="4"/><circle cx="925" cy="494" r="4"/><circle cx="935" cy="492" r="4"/><circle cx="968" cy="454" r="4"/><circle cx="980" cy="453" r="4"/><circle cx="994" cy="439" r="4"/><circle cx="1014" cy="412" r="4"/><circle cx="1040" cy="379" r="4"/><circle cx="1066" cy="338" r="4"/>
</g>
<g fill="#b7cbe8" fill-opacity=".6" stroke="none"><circle cx="700" cy="695" r="17"/><circle cx="400" cy="975" r="14"/><circle cx="445" cy="935" r="16"/></g>
<text class="tk2" x="325" y="1205" text-anchor="middle">0.4</text><text class="tk2" x="500" y="1205" text-anchor="middle">0.5</text><text class="tk2" x="673" y="1205" text-anchor="middle">0.6</text><text class="tk2" x="848" y="1205" text-anchor="middle">0.7</text><text class="tk2" x="1022" y="1205" text-anchor="middle">0.8</text>
<text class="tk2" x="178" y="727" text-anchor="middle">0.6</text><text class="tk2" x="178" y="885" text-anchor="middle">0.5</text><text class="tk2" x="178" y="1045" text-anchor="middle">0.4</text>
<text class="tk2" x="653" y="1232" text-anchor="middle">y_predANN</text>
<text class="tk2" transform="translate(145 742) rotate(-90)" text-anchor="middle">truth</text>
</g>
<text class="sub2" x="2852.7" y="1231.7" textLength="246.300" lengthAdjust="spacingAndGlyphs">Urban Heat Island</text>
<text class="sub2" x="2856.7" y="1271.7" textLength="240" lengthAdjust="spacingAndGlyphs">Vulerability Index</text>
</g>
</svg>
